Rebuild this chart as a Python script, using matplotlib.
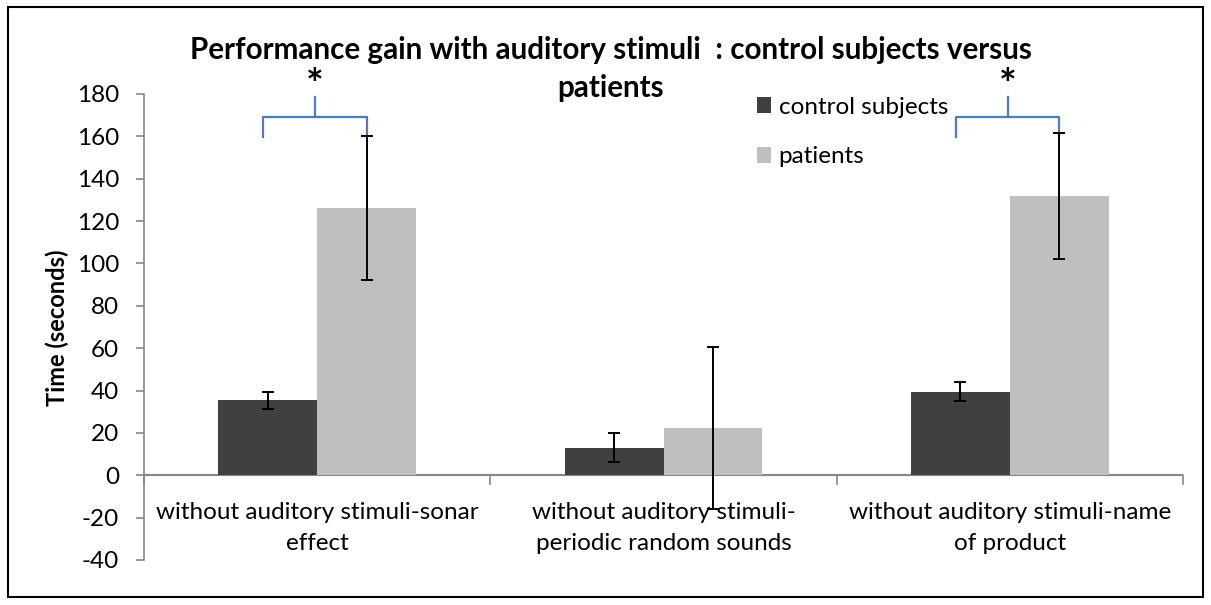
import matplotlib
matplotlib.use('Agg')
import matplotlib.pyplot as plt
import numpy as np

plt.rcParams['font.family'] = ['Lato', 'DejaVu Sans']
plt.rcParams['axes.unicode_minus'] = False

categories = ['without auditory stimuli-sonar\neffect',
              'without auditory stimuli-\nperiodic random sounds',
              'without auditory stimuli-name\nof product']
control = [35.5, 13, 39.5]
control_err = [4, 6.8, 4.3]
patients = [126, 22.2, 131.8]
patients_err = [34, 38.2, 29.8]
yticks = list(range(-40, 181, 20))
title = 'Performance gain with auditory stimuli  : control subjects versus\npatients'

dark = '#404040'
light = '#bfbfbf'
gray = '#868686'
blue = '#4a7ebb'

W, H = 1211, 605
fig = plt.figure(figsize=(W/100, H/100), dpi=100)
ax = fig.add_axes([144/W, 1 - 560/H, (1183-144)/W, (560-94)/H])

x = np.arange(len(categories))
w = 1/3.5
ax.bar(x - w/2, control, w, color=dark, label='control subjects', zorder=2)
ax.bar(x + w/2, patients, w, color=light, label='patients', zorder=2)
ax.errorbar(x - w/2, control, yerr=control_err, fmt='none', ecolor='black',
            elinewidth=1.4, capsize=4.5, capthick=1.4, zorder=3)
ax.errorbar(x + w/2, patients, yerr=patients_err, fmt='none', ecolor='black',
            elinewidth=1.4, capsize=4.5, capthick=1.4, zorder=3)

ax.set_xlim(-0.5, 2.5)
ax.set_ylim(-40, 180)
ax.set_yticks(yticks)
ax.tick_params(axis='y', labelsize=17.5, length=6, width=1.2, color=gray, pad=12)
ax.set_xticks([])
for s in ['top', 'right', 'bottom']:
    ax.spines[s].set_visible(False)
ax.spines['left'].set_color(gray)
ax.spines['left'].set_linewidth(1.2)
ax.axhline(0, color=gray, lw=1.5, zorder=1)
for b in [-0.5, 0.5, 1.5, 2.5]:
    ax.plot([b, b], [0, -4], color=gray, lw=1.2, clip_on=False)
for i, c in enumerate(categories):
    ax.text(i, -12.5, c, ha='center', va='top', fontsize=17.5, linespacing=1.6)

fig.text(57/W, 1 - 328/H, 'Time (seconds)', rotation=90, ha='center', va='center',
         fontsize=17, fontweight='bold')

# significance brackets
for i in [0, 2]:
    x0, x1 = i - 0.156, i + w/2
    ax.plot([x0, x0, x1, x1], [159.5, 169, 169, 160.5], color=blue, lw=1.6, clip_on=False)
    xm = (x0 + x1) / 2
    ax.plot([xm, xm], [169, 178.5], color=blue, lw=1.6, clip_on=False)
    ax.text(xm, 183.5, '*', ha='center', va='center', fontsize=30, fontweight='bold')

ax.legend(loc='upper left', bbox_to_anchor=((747-144)/1039, 1.015), frameon=False,
          fontsize=17.5, handlelength=0.6, handleheight=0.6, handletextpad=0.3,
          labelspacing=1.18, borderaxespad=0)

fig.text(611/W, 1 - 69/H, title, ha='center', va='center',
         fontsize=21.3, fontweight='bold', linespacing=1.45)
fig.patches.append(plt.Rectangle((8/W, 8/H), 1195/W, 590/H, transform=fig.transFigure,
                                 fill=False, edgecolor='black', lw=1.5))

fig.savefig('out.png', dpi=100)
